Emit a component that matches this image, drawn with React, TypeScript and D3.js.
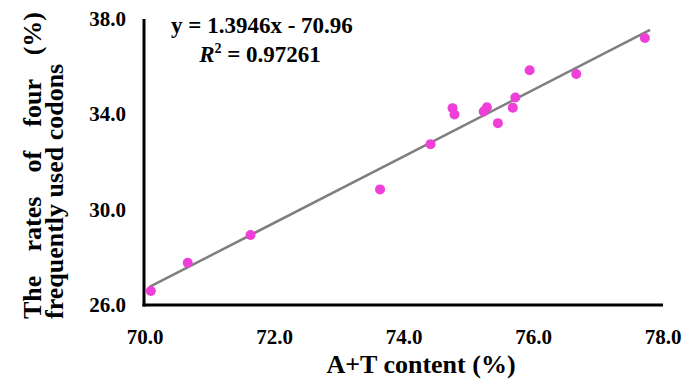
import React, { useEffect, useRef } from 'react';
import * as d3 from 'd3';

// A+T content (%) vs rates of four frequently used codons (%)
const atContent = [70.09, 70.66, 71.63, 73.63, 74.41, 74.75, 74.78, 75.23, 75.28, 75.45, 75.68, 75.72, 75.94, 76.66, 77.72];
const codonRates = [26.59, 27.77, 28.94, 30.85, 32.75, 34.26, 33.99, 34.12, 34.30, 33.63, 34.28, 34.71, 35.85, 35.69, 37.2];

const xTicks = [70, 72, 74, 76, 78];
const yTicks = [26, 30, 34, 38];
const slope = 1.3946;
const intercept = -70.96;
const rSquared = '0.97261';

const W = 686;
const H = 385;

const App = () => {
  const svgRef = useRef<SVGSVGElement>(null);

  useEffect(() => {
    const svg = d3.select(svgRef.current);
    svg.selectAll('*').remove();

    const font = '"Liberation Serif", "Times New Roman", serif';

    const x = d3.scaleLinear().domain([70, 78]).range([145, 663]);
    const y = d3.scaleLinear().domain([26, 38]).range([305, 19]);

    // axis lines
    svg.append('line')
      .attr('x1', x(70) - 1).attr('x2', x(70) - 1)
      .attr('y1', y(38)).attr('y2', y(26) + 1.5)
      .attr('stroke', '#000').attr('stroke-width', 3);
    svg.append('line')
      .attr('x1', x(70) - 2.5).attr('x2', x(78))
      .attr('y1', y(26)).attr('y2', y(26))
      .attr('stroke', '#000').attr('stroke-width', 3);

    // tick labels
    svg.append('g').selectAll('text')
      .data(yTicks)
      .join('text')
      .attr('x', 126)
      .attr('y', d => y(d) + 7)
      .attr('text-anchor', 'end')
      .attr('font-family', font)
      .attr('font-weight', 'bold')
      .attr('font-size', 21)
      .text(d => d.toFixed(1));

    svg.append('g').selectAll('text')
      .data(xTicks)
      .join('text')
      .attr('x', d => x(d))
      .attr('y', 344)
      .attr('text-anchor', 'middle')
      .attr('font-family', font)
      .attr('font-weight', 'bold')
      .attr('font-size', 21)
      .text(d => d.toFixed(1));

    // axis titles
    svg.append('text')
      .attr('x', 421)
      .attr('y', 373)
      .attr('text-anchor', 'middle')
      .attr('font-family', font)
      .attr('font-weight', 'bold')
      .attr('font-size', 26)
      .text('A+T content (%)');

    const yTitle = svg.append('g')
      .attr('font-family', font)
      .attr('font-weight', 'bold')
      .attr('font-size', 26);
    // first line is justified: spread the gap over the words
    const line1 = yTitle.append('text')
      .attr('transform', 'translate(41,319) rotate(-90)')
      .text('The rates of four (%)');
    const natural = (line1.node() as SVGTextElement).getComputedTextLength();
    line1.attr('word-spacing', (307 - natural) / 4);
    yTitle.append('text')
      .attr('transform', 'translate(63,319) rotate(-90)')
      .text('frequently used codons');

    // regression line
    const xr = [d3.min(atContent)! - 0.02, d3.max(atContent)! + 0.08];
    svg.append('path')
      .attr('d', d3.line<number>().x(d => x(d)).y(d => y(slope * d + intercept))(xr))
      .attr('stroke', '#7f7f7f')
      .attr('stroke-width', 2.5)
      .attr('fill', 'none');

    // points
    svg.append('g').selectAll('circle')
      .data(atContent)
      .join('circle')
      .attr('cx', d => x(d))
      .attr('cy', (d, i) => y(codonRates[i]))
      .attr('r', 5)
      .attr('fill', '#ee40d8');

    // equation
    const eq = svg.append('g')
      .attr('font-family', font)
      .attr('font-weight', 'bold')
      .attr('font-size', 23)
      .attr('text-anchor', 'middle');
    eq.append('text')
      .attr('x', 262)
      .attr('y', 33)
      .text(`y = ${slope}x - ${Math.abs(intercept)}`);
    const r2 = eq.append('text')
      .attr('x', 260)
      .attr('y', 62);
    r2.append('tspan').attr('font-style', 'italic').text('R');
    r2.append('tspan').attr('font-size', 14).attr('dy', -9).text('2');
    r2.append('tspan').attr('dy', 9).text(` = ${rSquared}`);
  }, []);

  return (
    <svg ref={svgRef} width={W} height={H} style={{ position: 'absolute', left: 0, top: 0, background: '#fff' }} />
  );
};

export default App;
